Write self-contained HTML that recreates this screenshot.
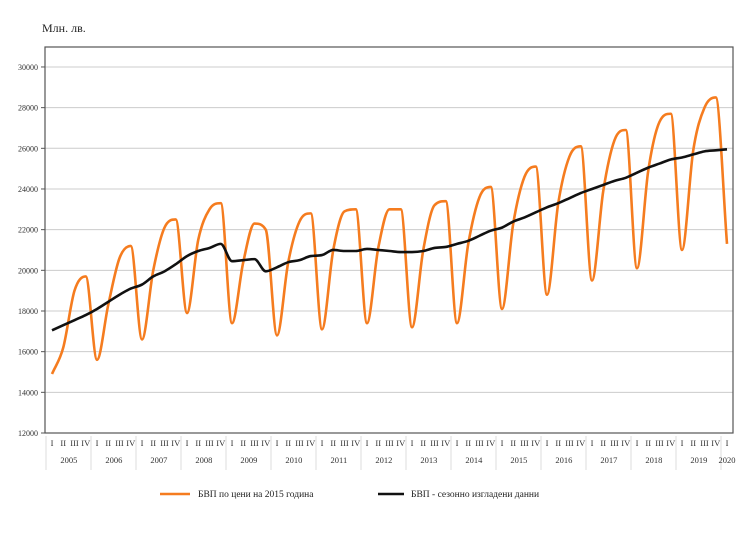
<!DOCTYPE html>
<html><head><meta charset="utf-8"><style>
body{margin:0;background:#fff;width:740px;height:530px;overflow:hidden}
svg{font-family:"Liberation Serif",serif}
</style></head><body>
<svg id="s" width="740" height="530" xmlns="http://www.w3.org/2000/svg">
<text x="42" y="32" font-size="12" fill="#222">Млн. лв.</text>
<g id="grid"></g>
<rect x="45" y="47" width="688" height="386" fill="none" stroke="#555" stroke-width="1.2"/>
<path id="o" fill="none" stroke="#f57c1f" stroke-width="2.6"/>
<path id="b" fill="none" stroke="#111" stroke-width="2.6"/>
<g id="ax" font-size="8.5" fill="#333"></g>
<line x1="160" y1="494" x2="190" y2="494" stroke="#f57c1f" stroke-width="2.6"/>
<text x="198" y="497" font-size="9.5" fill="#222">БВП  по цени на 2015  година</text>
<line x1="378" y1="494" x2="404" y2="494" stroke="#111" stroke-width="2.6"/>
<text x="411" y="497" font-size="9.5" fill="#222">БВП  - сезонно изгладени  данни</text>
</svg>
<script>
var NS="http://www.w3.org/2000/svg";
function Y(v){return 433-(v-12000)*40.67/2000}
function X(q){return 52+q*11.25}
function el(t,a,p,txt){var e=document.createElementNS(NS,t);for(var k in a)e.setAttribute(k,a[k]);if(txt)e.textContent=txt;p.appendChild(e);return e}
var g=document.getElementById('grid'),ax=document.getElementById('ax');
for(var v=12000;v<=30000;v+=2000){var y=Y(v);
 if(v>12000)el('line',{x1:45,x2:733,y1:y,y2:y,stroke:'#ccc','stroke-width':1},g);
 el('line',{x1:41,x2:45,y1:y,y2:y,stroke:'#555'},g);
 el('text',{x:38,y:y+3,'text-anchor':'end','font-size':8},ax,String(v));}
var qn=['I','II','III','IV'];
for(var q=0;q<=60;q++){el('text',{x:X(q),y:446,'text-anchor':'middle'},ax,qn[q%4]);}
for(var yr=0;yr<=15;yr++){var cx=yr<15?X(yr*4+1.5):X(60);
 el('text',{x:cx,y:463,'text-anchor':'middle'},ax,String(2005+yr));
 var sx=X(yr*4)-6;el('line',{x1:sx,x2:sx,y1:436,y2:470,stroke:'#ddd'},g);}
var O=[14900,16200,19000,19700,15600,18300,20600,21200,16600,20000,22100,22500,17900,21500,23000,23300,17400,20400,22300,22000,16800,20400,22400,22800,17100,21000,22900,23000,17400,21100,23000,23000,17200,21000,23200,23400,17400,21300,23600,24100,18100,22300,24600,25100,18800,23300,25600,26100,19500,23900,26400,26900,20100,24900,27300,27700,21000,25900,28000,28500,21300];
var B=[17050,17300,17550,17800,18100,18450,18800,19100,19300,19700,19950,20300,20700,20950,21100,21300,20450,20500,20550,19950,20150,20400,20500,20700,20750,21000,20950,20950,21050,21000,20950,20900,20900,20950,21100,21150,21300,21450,21700,21950,22100,22400,22600,22850,23100,23300,23550,23800,24000,24200,24400,24550,24800,25050,25250,25450,25550,25700,25850,25900,25950];
function path(d){var n=d.length,x=[],y=[],m=[],dl=[];
 for(var i=0;i<n;i++){x.push(X(i));y.push(Y(d[i]));}
 for(i=0;i<n-1;i++)dl.push((y[i+1]-y[i])/(x[i+1]-x[i]));
 m[0]=dl[0];m[n-1]=dl[n-2];
 for(i=1;i<n-1;i++){m[i]=(dl[i-1]*dl[i]<=0)?0:(dl[i-1]+dl[i])/2;}
 for(i=0;i<n-1;i++){if(dl[i]==0){m[i]=m[i+1]=0;continue;}var a=m[i]/dl[i],b=m[i+1]/dl[i],h=a*a+b*b;if(h>9){var t=3/Math.sqrt(h);m[i]=t*a*dl[i];m[i+1]=t*b*dl[i];}}
 var s='M'+x[0]+','+y[0];
 for(i=0;i<n-1;i++){var h=(x[i+1]-x[i])/3;s+='C'+(x[i]+h)+','+(y[i]+m[i]*h)+' '+(x[i+1]-h)+','+(y[i+1]-m[i+1]*h)+' '+x[i+1]+','+y[i+1];}
 return s;}
document.getElementById('o').setAttribute('d',path(O));
document.getElementById('b').setAttribute('d',path(B));
</script>
</body></html>
